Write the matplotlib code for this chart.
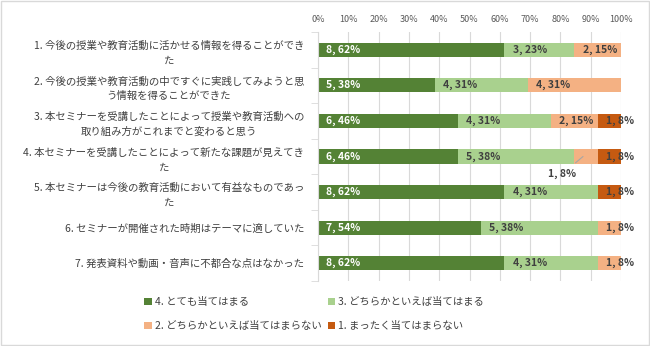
import numpy as np
import matplotlib
matplotlib.use("Agg")
import matplotlib.pyplot as plt
from matplotlib.patches import Rectangle

plt.rcParams['font.family'] = ['Noto Sans CJK JP', 'DejaVu Sans']

questions = [
    "1. 今後の授業や教育活動に活かせる情報を得ることができ\nた",
    "2. 今後の授業や教育活動の中ですぐに実践してみようと思\nう情報を得ることができた",
    "3. 本セミナーを受講したことによって授業や教育活動への\n取り組み方がこれまでと変わると思う",
    "4. 本セミナーを受講したことによって新たな課題が見えてき\nた",
    "5. 本セミナーは今後の教育活動において有益なものであっ\nた",
    "6. セミナーが開催された時期はテーマに適していた",
    "7. 発表資料や動画・音声に不都合な点はなかった",
]
answers = ["4. とても当てはまる", "3. どちらかといえば当てはまる",
           "2. どちらかといえば当てはまらない", "1. まったく当てはまらない"]
count4 = [8, 5, 6, 6, 8, 7, 8]
count3 = [3, 4, 4, 5, 4, 5, 4]
count2 = [2, 4, 2, 1, 0, 1, 1]
count1 = [0, 0, 1, 1, 1, 0, 0]
colors = ['#548235', '#A9D18E', '#F4B183', '#C55A11']
label_colors = ['white', '#404040', '#404040', '#404040']
xticks = [0, 10, 20, 30, 40, 50, 60, 70, 80, 90, 100]

counts = np.array([count4, count3, count2, count1], dtype=float)
total = counts.sum(axis=0)
shares = counts / total * 100

fig = plt.figure(figsize=(6.5, 3.46), dpi=100)
ax = fig.add_axes([318 / 650, 1 - 281 / 346, 303 / 650, 249 / 346])

y = np.arange(len(questions))
left = np.zeros(len(questions))
handles = []
for k in range(4):
    h = ax.barh(y, shares[k], left=left, height=0.4, color=colors[k], label=answers[k], zorder=2)
    handles.append(h)
    for i in range(len(questions)):
        n = int(counts[k, i])
        if n == 0:
            continue
        txt = f"{n}, {round(shares[k, i]):d}%"
        if k == 2 and i == 3:
            # label placed below the bar with a leader line
            ax.annotate(txt, xy=(left[i] + shares[k, i] / 2 - 1, y[i]), xytext=(80.5, y[i] + 0.5),
                        ha='center', va='center', fontsize=7.5, fontweight='bold', color='#404040',
                        arrowprops=dict(arrowstyle='-', color='#A6A6A6', lw=0.8, shrinkA=4, shrinkB=0))
            continue
        ax.text(left[i] + 2.7, y[i], txt, ha='left', va='center', fontsize=7.5,
                fontweight='bold', color=label_colors[k], zorder=3)
    left += shares[k]

ax.set_xlim(0, 100)
ax.set_ylim(len(questions) - 0.5, -0.5)
ax.set_xticks(xticks)
ax.set_xticklabels([f"{t}%" for t in xticks], fontsize=6.5, color='#595959')
ax.xaxis.tick_top()
ax.tick_params(axis='x', length=0, pad=6)
ax.grid(axis='x', color='#D9D9D9', linewidth=0.8, zorder=0)

ax.set_yticks(y)
ax.set_yticklabels(questions, fontsize=7.5, color='#404040', multialignment='center', linespacing=1.6)
ax.tick_params(axis='y', length=0, pad=10)
ax.set_yticks(np.arange(-0.5, len(questions), 1), minor=True)
ax.tick_params(axis='y', which='minor', length=5, color='#D9D9D9')

for s in ['top', 'right', 'bottom']:
    ax.spines[s].set_visible(False)
ax.spines['left'].set_color('#D9D9D9')

fig.legend([handles[0], handles[2], handles[1], handles[3]],
           [answers[0], answers[2], answers[1], answers[3]],
           ncol=2, loc='upper left', bbox_to_anchor=(135 / 650, 1 - 288 / 346),
           frameon=False, fontsize=7.5, handlelength=0.7, handleheight=0.7,
           handletextpad=0.3, columnspacing=0.6, labelspacing=1.3, labelcolor='#404040')

fig.add_artist(Rectangle((0.002, 0.003), 0.996, 0.994, transform=fig.transFigure,
                         fill=False, edgecolor='#D9D9D9', linewidth=1))

fig.savefig("out.png", dpi=100)
